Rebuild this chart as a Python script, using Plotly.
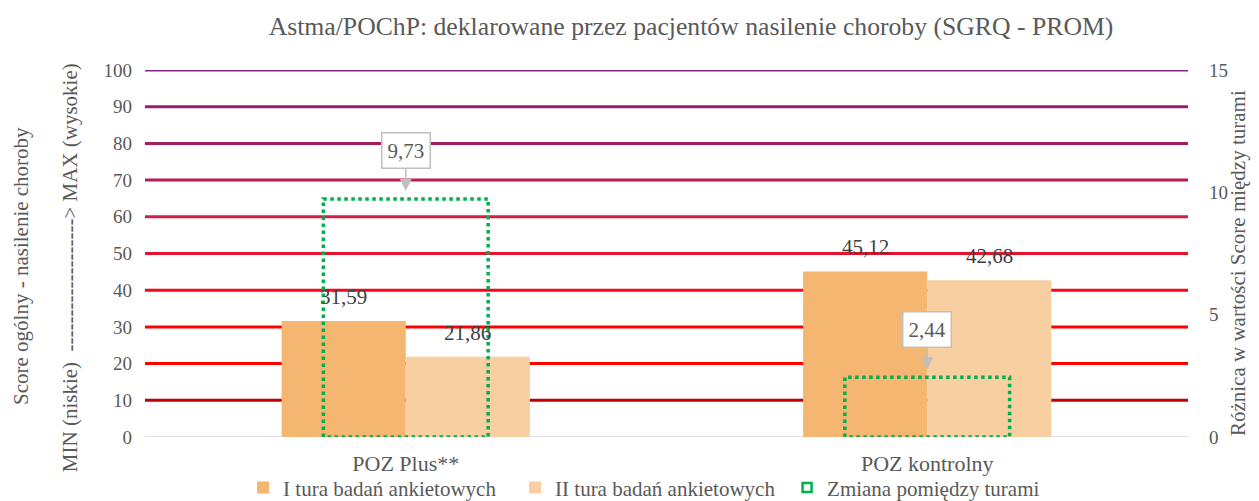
import plotly.graph_objects as go

categories = ["POZ Plus**", "POZ kontrolny"]
tura_1 = [31.59, 45.12]
tura_2 = [21.86, 42.68]
zmiana = [9.73, 2.44]

name_1 = "I tura badań ankietowych"
name_2 = "II tura badań ankietowych"
name_z = "Zmiana pomiędzy turami"

left_ticks = list(range(0, 101, 10))
right_ticks = [0, 5, 10, 15]

FONT = "Liberation Serif"
GREY = "#595959"
BAR_W = 0.238
RECT_HALF = 0.158


def fmt(v):
    return f"{v:.2f}".replace(".", ",")


xs = list(range(len(categories)))

fig = go.Figure()
fig.add_trace(go.Bar(x=xs, y=tura_1, name=name_1, width=BAR_W, offset=-BAR_W,
                     marker=dict(color="#F4B670", line=dict(width=0))))
fig.add_trace(go.Bar(x=xs, y=tura_2, name=name_2, width=BAR_W, offset=0,
                     marker=dict(color="#F8CFA0", line=dict(width=0))))

# dotted outline of the change bars (secondary axis)
rx, ry = [], []
for i, v in zip(xs, zmiana):
    rx += [i - RECT_HALF, i - RECT_HALF, i + RECT_HALF, i + RECT_HALF, i - RECT_HALF, None]
    ry += [0, v, v, 0, 0, None]
fig.add_trace(go.Scatter(x=rx, y=ry, yaxis="y2", mode="lines", showlegend=False,
                         line=dict(color="#00B050", width=3.5, dash="dot"),
                         hoverinfo="skip"))
fig.add_trace(go.Scatter(x=[None], y=[None], yaxis="y2", mode="markers", name=name_z,
                         marker=dict(symbol="square-open", size=9, color="#00B050",
                                     line=dict(width=2.5, color="#00B050"))))

# coloured gridlines
grid_colors = ["#D9D9D9", "#C00000", "#FF0000", "#FF0000", "#F5061A", "#E5132E",
               "#D41E45", "#BA1A52", "#A9195F", "#9B1C70", "#8E2387"]
for t, c in zip(left_ticks, grid_colors):
    fig.add_shape(type="line", xref="paper", yref="y", x0=0, x1=1, y0=t, y1=t,
                  line=dict(color=c, width=1.5 if t == 0 else 3), layer="below")

# data labels
for i in xs:
    fig.add_annotation(x=i - BAR_W / 2, y=tura_1[i], text=fmt(tura_1[i]), showarrow=False,
                       yshift=24, font=dict(family=FONT, size=21, color="#404040"))
    fig.add_annotation(x=i + BAR_W / 2, y=tura_2[i], text=fmt(tura_2[i]), showarrow=False,
                       yshift=24, font=dict(family=FONT, size=21, color="#404040"))
    fig.add_annotation(x=i, y=zmiana[i], yref="y2", text=fmt(zmiana[i]), showarrow=True,
                       ax=0, ay=-40, yshift=8, arrowhead=2, arrowsize=1.6, arrowwidth=1.5,
                       arrowcolor="#BFBFBF", bgcolor="white", bordercolor="#BFBFBF",
                       borderwidth=1.5, borderpad=5,
                       font=dict(family=FONT, size=21, color=GREY))

# axis titles
fig.add_annotation(xref="paper", yref="paper", x=0, y=0.466, xshift=-124, textangle=-90,
                   xanchor="center", yanchor="middle",
                   text="Score ogólny - nasilenie choroby", showarrow=False,
                   font=dict(family=FONT, size=21, color=GREY))
fig.add_annotation(xref="paper", yref="paper", x=0, y=0.46, xshift=-75, textangle=-90,
                   xanchor="center", yanchor="middle",
                   text="MIN (niskie)  -------------------> MAX (wysokie)", showarrow=False,
                   font=dict(family=FONT, size=21, color=GREY))
fig.add_annotation(xref="paper", yref="paper", x=1, y=0.474, xshift=50, textangle=-90,
                   xanchor="center", yanchor="middle",
                   text="Różnica w wartości Score między turami", showarrow=False,
                   font=dict(family=FONT, size=21, color=GREY))

fig.update_layout(
    width=1259, height=501,
    margin=dict(l=137, r=79, t=62, b=72),
    plot_bgcolor="white", paper_bgcolor="white",
    font=dict(family=FONT, size=19, color=GREY),
    title=dict(text="Astma/POChP: deklarowane przez pacjentów nasilenie choroby (SGRQ - PROM)",
               x=0.5425, xanchor="center", y=0.964, yanchor="middle",
               font=dict(family=FONT, size=25.7, color=GREY)),
    xaxis=dict(range=[-0.5, 1.5], tickvals=xs, ticktext=categories, showgrid=False,
               zeroline=False, showline=False, ticks="", ticklabelstandoff=11,
               automargin=False, tickfont=dict(family=FONT, size=22, color=GREY)),
    yaxis=dict(range=[0, 100], tickvals=left_ticks, showgrid=False, zeroline=False,
               showline=False, ticks="", ticklabelstandoff=12, automargin=False,
               tickfont=dict(family=FONT, size=19, color=GREY)),
    yaxis2=dict(range=[0, 15], tickvals=right_ticks, overlaying="y", side="right",
                showgrid=False, zeroline=False, showline=False, ticks="",
                ticklabelstandoff=20, automargin=False,
                tickfont=dict(family=FONT, size=19, color=GREY)),
    legend=dict(orientation="h", xref="container", yref="container",
                x=0.1867, xanchor="left", y=0.042, yanchor="middle",
                entrywidth=227, font=dict(family=FONT, size=21, color=GREY),
                itemwidth=30, bgcolor="rgba(0,0,0,0)"),
    showlegend=True,
)

fig.write_html("out.html")
